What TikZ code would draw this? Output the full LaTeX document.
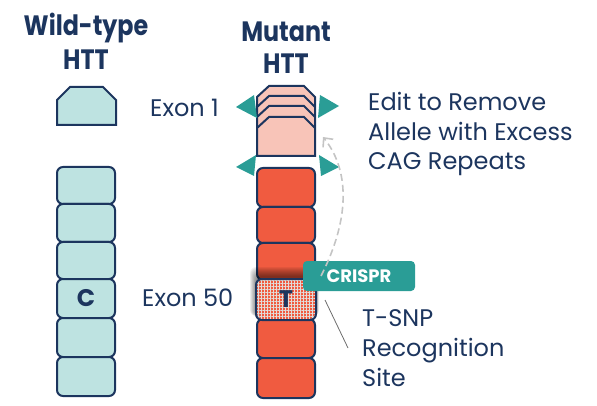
\documentclass[tikz,border=0pt]{standalone}
\usepackage{fontspec}
\setmainfont{Poppins}
\newfontfamily\ttlfont[FakeStretch=0.85]{Poppins}[BoldFont={* Bold}]
\usetikzlibrary{patterns.meta,arrows.meta}
\definecolor{navy}{HTML}{1C355E}
\definecolor{wtfill}{HTML}{BEE3E1}
\definecolor{mutred}{HTML}{F05B40}
\definecolor{mutpink}{HTML}{F8C4B8}
\definecolor{tealc}{HTML}{2A9D96}
\definecolor{dashgray}{HTML}{C4C4C4}
\definecolor{patc}{HTML}{E2DCDA}
\begin{document}
\begin{tikzpicture}[x=1pt,y=-1pt,
  exonbox/.style={draw=navy, line width=2pt, rounded corners=6pt, minimum width=58pt, inner sep=0pt},
  wtbox/.style={exonbox, fill=wtfill},
  mutbox/.style={exonbox, fill=mutred},
  lbl/.style={text=navy, font=\fontsize{24}{29}\selectfont, inner sep=0pt},
  ttl/.style={text=navy, font=\ttlfont\bfseries\fontsize{28}{32}\selectfont, inner sep=0pt},
  letter/.style={text=navy, font=\bfseries\fontsize{24}{26}\selectfont},
  tri/.style={fill=tealc, draw=none},
  capline/.style={draw=navy, line width=2pt, line join=miter},
  shadowlayer/.style={fill=black, opacity=0.06}
]
\useasboundingbox (0,0) rectangle (597,406);

% titles
\node[ttl, anchor=base] (wtA) at (86,36) {Wild-type};
\node[ttl, anchor=base] (wtB) at (86,70) {HTT};
\node[ttl, anchor=base] (muA) at (286,42) {Mutant};
\node[ttl, anchor=base] (muB) at (286,74) {HTT};

% wild-type exon 1
\draw[capline, fill=wtfill] (57,125) -- (57,100) -- (70,87) -- (103,87) -- (116,100) -- (116,125) -- cycle;
\coordinate (wtex1) at (86,106);

% wild-type blocks
\foreach \t/\b [count=\i] in {166/203,203/241,241/278,278/317,317/356,356/395}{
  \node[wtbox, minimum height=\b-\t, anchor=north] (w\i) at (86,\t) {};
}
\node[letter] (wC) at (w4.center) {C};

% mutant exon 1 (stacked)
\draw[capline, fill=mutpink] (257,156) -- (257,97) -- (269,86) -- (304,86) -- (315,97) -- (315,156) -- cycle;
\foreach \d in {10,20,31}{
  \draw[capline] (257,97+\d) -- (269,86+\d) -- (304,86+\d) -- (315,97+\d);
}
\coordinate (muex1) at (286,121);

% mutant blocks
\foreach \t/\b [count=\i] in {167/206,206/242,242/279}{
  \node[mutbox, minimum height=\b-\t, anchor=north] (m\i) at (286,\t) {};
}
% soft shadow of the T block
\foreach \k in {1,...,10}{
  \fill[shadowlayer, rounded corners=6pt] (257-\k*0.7,277-\k) rectangle (315+\k*0.4,316);
}
\foreach \t/\b [count=\i from 5] in {318/357,357/397}{
  \node[mutbox, minimum height=\b-\t, anchor=north] (m\i) at (286,\t) {};
}
\node[exonbox, draw=none, fill=mutred, minimum height=39, anchor=north] (m4) at (286,279) {};
\fill[pattern={Lines[angle=0, distance=3pt, line width=0.6pt]}, pattern color=patc, rounded corners=6pt]
  (m4.north west) rectangle (m4.south east);
\fill[pattern={Lines[angle=90, distance=3pt, line width=0.6pt]}, pattern color=patc, rounded corners=6pt]
  (m4.north west) rectangle (m4.south east);
\draw[navy, line width=2pt, rounded corners=6pt] (m4.north west) rectangle (m4.south east);
\node[letter] (mT) at (m4.center) {T};

% teal triangles
\fill[tri] (236,107) -- (254,95) -- (257,118) -- cycle;
\fill[tri] (339,106) -- (320,95) -- (318,118) -- cycle;
\fill[tri] (236,167) -- (256,155) -- (254,176) -- cycle;
\fill[tri] (339,167) -- (319,155) -- (321,176) -- cycle;

% CRISPR tag
\node[fill=tealc, rounded corners=4pt, minimum width=112pt, minimum height=30pt, inner sep=0pt,
  text=white, font=\bfseries\fontsize{18}{20}\selectfont] (crispr) at (359,276) {CRISPR};

% dashed arrow
\coordinate (arrS) at (321,276);
\coordinate (arrE) at (323,137);
\draw[dashgray, line width=1.6pt, dash pattern=on 7pt off 4pt, -{Straight Barb[length=7pt,width=13pt]}]
  (arrS) .. controls (352,215) and (348,168) .. (arrE);

% labels
\node[lbl, anchor=base west] (ex1) at (150,117) {Exon 1};
\node[lbl, anchor=base west] (ex50) at (142,306) {Exon 50};
\node[lbl, anchor=base west] (ed1) at (368,111) {Edit to Remove};
\node[lbl, anchor=base west] (ed2) at (368,141) {Allele with Excess};
\node[lbl, anchor=base west] (ed3) at (368,170) {CAG Repeats};
\node[lbl, anchor=base west] (ts1) at (362,326) {T-SNP};
\node[lbl, anchor=base west] (ts2) at (362,356) {Recognition};
\node[lbl, anchor=base west] (ts3) at (362,386) {Site};

% pointer line
\coordinate (ptA) at (325,300);
\coordinate (ptB) at (348,348);
\draw[gray!85!black, line width=0.8pt] (ptA) -- (ptB);
\end{tikzpicture}
\end{document}
